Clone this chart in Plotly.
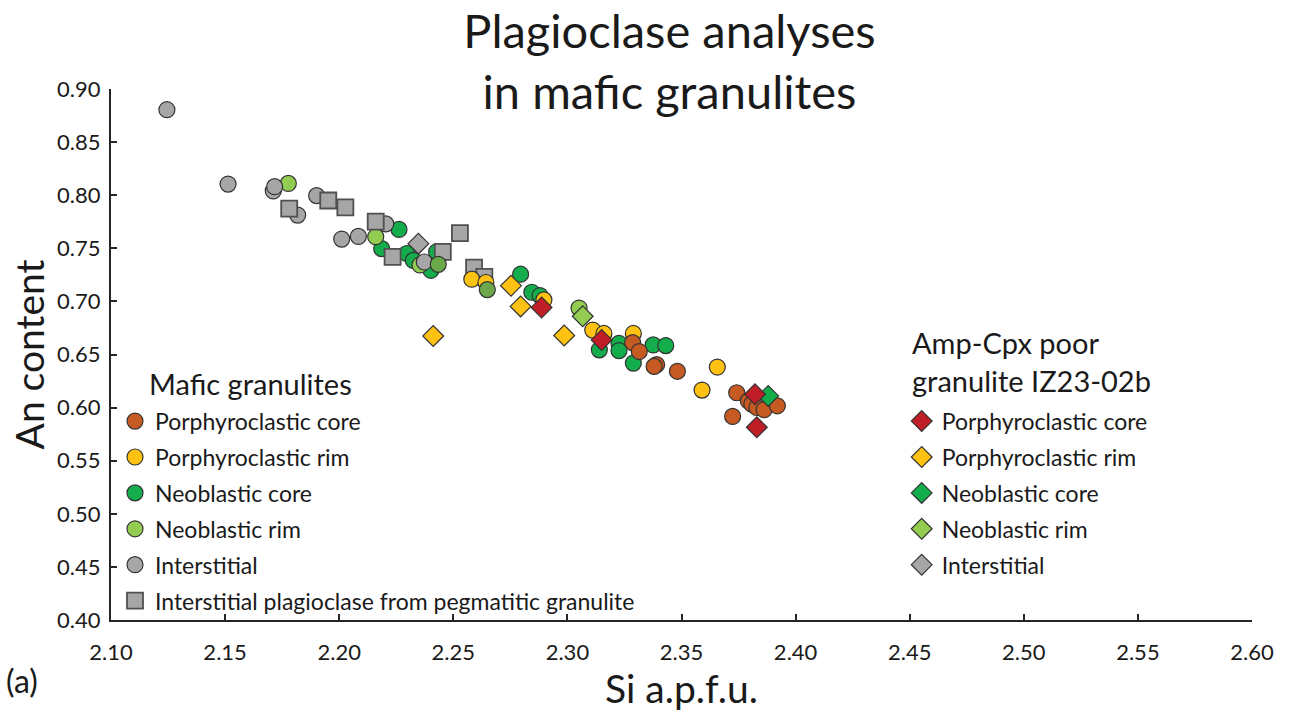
import plotly.graph_objects as go

# ---- Mafic granulites (circles / squares) ----
porph_core_x = [2.3286, 2.3315, 2.3391, 2.3380, 2.3482, 2.3742, 2.3724, 2.3793, 2.3808, 2.3830, 2.3862, 2.3920]
porph_core_y = [0.6612, 0.6528, 0.6404, 0.6388, 0.6342, 0.6140, 0.5917, 0.6063, 0.6033, 0.6001, 0.5980, 0.6017]

porph_rim_x = [2.2581, 2.2643, 2.2897, 2.3111, 2.3160, 2.3289, 2.3657, 2.3590]
porph_rim_y = [0.7209, 0.7178, 0.7014, 0.6730, 0.6698, 0.6698, 0.6382, 0.6165]

neo_core_x = [2.2262, 2.2186, 2.2296, 2.2325, 2.2402, 2.2427, 2.2795, 2.2844, 2.2880,
              2.3140, 2.3226, 2.3226, 2.3376, 2.3431, 2.3289]
neo_core_y = [0.7678, 0.7497, 0.7451, 0.7386, 0.7293, 0.7467, 0.7256, 0.7086, 0.7055,
              0.6544, 0.6605, 0.6537, 0.6590, 0.6584, 0.6419]

neo_rim_x = [2.1777, 2.2160, 2.2354, 2.3051]
neo_rim_y = [0.8111, 0.7609, 0.7343, 0.6937]

neo_rim_dark_x = [2.2434, 2.2649]
neo_rim_dark_y = [0.7349, 0.7111]

interstitial_x = [2.1245, 2.1513, 2.1711, 2.1717, 2.1901, 2.1818, 2.2011, 2.2084, 2.2204, 2.2373]
interstitial_y = [0.8805, 0.8105, 0.8040, 0.8080, 0.7996, 0.7813, 0.7587, 0.7612, 0.7730, 0.7371]

pegmatitic_x = [2.1781, 2.1952, 2.2027, 2.2160, 2.2234, 2.2454, 2.2529, 2.2591, 2.2636]
pegmatitic_y = [0.7873, 0.7950, 0.7885, 0.7752, 0.7420, 0.7467, 0.7643, 0.7318, 0.7231]

# ---- Amp-Cpx poor granulite IZ23-02b (diamonds) ----
iz_porph_core_x = [2.2887, 2.3150, 2.3822, 2.3830]
iz_porph_core_y = [0.6943, 0.6637, 0.6125, 0.5815]

iz_porph_rim_x = [2.2753, 2.2795, 2.2412, 2.2986]
iz_porph_rim_y = [0.7148, 0.6953, 0.6674, 0.6679]

iz_neo_core_x = [2.3880]
iz_neo_core_y = [0.6110]

iz_neo_rim_x = [2.3067]
iz_neo_rim_y = [0.6860]

iz_interstitial_x = [2.2347]
iz_interstitial_y = [0.7544]

x_ticks = [2.10, 2.15, 2.20, 2.25, 2.30, 2.35, 2.40, 2.45, 2.50, 2.55, 2.60]
y_ticks = [0.40, 0.45, 0.50, 0.55, 0.60, 0.65, 0.70, 0.75, 0.80, 0.85, 0.90]

C_ORANGE = "#c55a22"
C_YELLOW = "#ffc212"
C_GREEN = "#13ad4b"
C_LGREEN = "#92cc50"
C_OLIVE = "#6aa84a"
C_GREY = "#a6a6a6"
C_RED = "#c01e27"
EDGE = "#333333"
FONT = "Lato"
TXT = "#1a1a1a"

fig = go.Figure()


def add(x, y, name, color, symbol, legend, rank, show=True, edge=EDGE, lw=1.2):
    fig.add_trace(go.Scatter(
        x=x, y=y, mode="markers", name=name,
        marker=dict(size=16, color=color, symbol=symbol,
                    line=dict(color=edge, width=lw)),
        legend=legend, legendrank=rank, legendgroup=f"{legend}-{rank}",
        showlegend=show, hoverinfo="x+y+name",
    ))


# drawing order: later traces sit on top
add(neo_core_x, neo_core_y, "Neoblastic core", C_GREEN, "circle", "legend", 3)
add(neo_rim_x, neo_rim_y, "Neoblastic rim", C_LGREEN, "circle", "legend", 4)
add(interstitial_x, interstitial_y, "Interstitial", C_GREY, "circle", "legend", 5)
add(pegmatitic_x, pegmatitic_y, "Interstitial plagioclase from pegmatitic granulite",
    C_GREY, "square", "legend", 6, edge="#505050", lw=1.8)
add(porph_rim_x, porph_rim_y, "Porphyroclastic rim", C_YELLOW, "circle", "legend", 2)
add(porph_core_x, porph_core_y, "Porphyroclastic core", C_ORANGE, "circle", "legend", 1)
add(neo_rim_dark_x, neo_rim_dark_y, "Neoblastic rim", C_OLIVE, "circle", "legend", 7, show=False)

add(iz_interstitial_x, iz_interstitial_y, "Interstitial", C_GREY, "diamond", "legend2", 5)
add(iz_neo_rim_x, iz_neo_rim_y, "Neoblastic rim", C_LGREEN, "diamond", "legend2", 4)
add(iz_porph_rim_x, iz_porph_rim_y, "Porphyroclastic rim", C_YELLOW, "diamond", "legend2", 2)
add(iz_neo_core_x, iz_neo_core_y, "Neoblastic core", C_GREEN, "diamond", "legend2", 3)
add(iz_porph_core_x, iz_porph_core_y, "Porphyroclastic core", C_RED, "diamond", "legend2", 1)

legend_style = dict(
    font=dict(family=FONT, size=23, color=TXT),
    bgcolor="rgba(0,0,0,0)", borderwidth=0,
    tracegroupgap=3, yanchor="top", xanchor="left",
    traceorder="grouped", itemclick=False, itemdoubleclick=False,
)

fig.update_layout(
    width=1290, height=711,
    paper_bgcolor="white", plot_bgcolor="white",
    margin=dict(l=111, r=38, t=89, b=84),
    font=dict(family=FONT, color=TXT),
    title=dict(
        text="Plagioclase analyses<br>in mafic granulites",
        x=0.519, xanchor="center", y=0.933, yanchor="middle",
        font=dict(family=FONT, size=47, color=TXT),
    ),
    xaxis=dict(
        range=[2.10, 2.60], tickvals=x_ticks,
        ticktext=[f"{v:.2f}" for v in x_ticks],
        showgrid=False, zeroline=False, showline=True,
        linecolor="#262626", linewidth=2,
        ticks="inside", ticklen=6, tickwidth=1.5, tickcolor="#262626",
        tickfont=dict(family=FONT, size=22, color=TXT),
        ticklabelstandoff=12,
        title=dict(text="Si a.p.f.u.", font=dict(family=FONT, size=39, color=TXT),
                   standoff=6),
    ),
    yaxis=dict(
        range=[0.40, 0.90], tickvals=y_ticks,
        ticktext=[f"{v:.2f}" for v in y_ticks],
        showgrid=False, zeroline=False, showline=True,
        linecolor="#262626", linewidth=2,
        ticks="inside", ticklen=6, tickwidth=1.5, tickcolor="#262626",
        tickfont=dict(family=FONT, size=22, color=TXT),
        ticklabelstandoff=4,
        title=dict(text="An content", font=dict(family=FONT, size=39, color=TXT),
                   standoff=0),
    ),
    legend=dict(x=0.0035, y=0.415, **legend_style),
    legend2=dict(x=0.693, y=0.415, **legend_style),
    showlegend=True,
)

fig.add_annotation(
    text="Mafic granulites", xref="paper", yref="paper",
    x=0.0316, y=0.446, xanchor="left", yanchor="middle", showarrow=False,
    font=dict(family=FONT, size=29, color=TXT),
)
fig.add_annotation(
    text="Amp-Cpx poor<br>granulite IZ23-02b", xref="paper", yref="paper",
    x=0.700, y=0.486, xanchor="left", yanchor="middle", showarrow=False, align="left",
    font=dict(family=FONT, size=29, color=TXT),
)
fig.add_annotation(
    text="(a)", xref="paper", yref="paper",
    x=-0.078, y=-0.114, xanchor="center", yanchor="middle", showarrow=False,
    font=dict(family=FONT, size=32, color=TXT),
)

fig.write_html("out.html")
